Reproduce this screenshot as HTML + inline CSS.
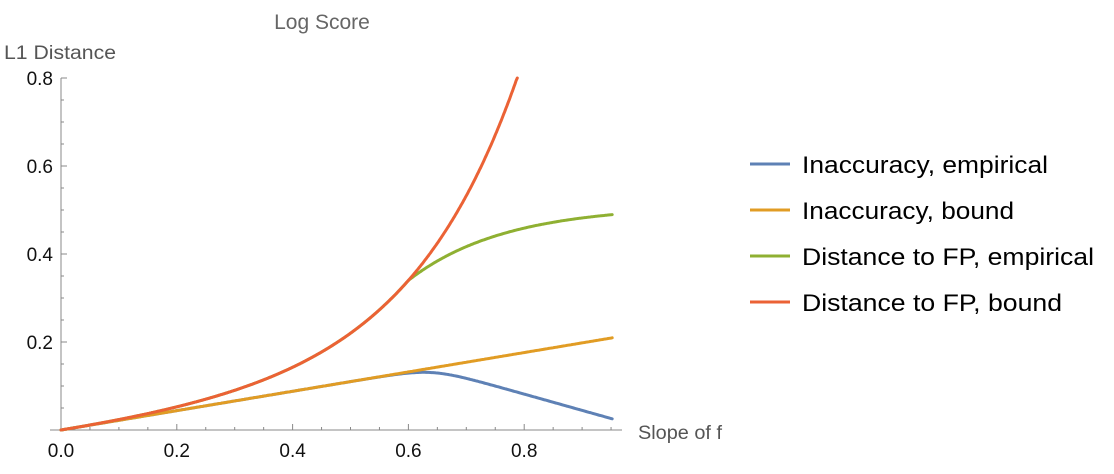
<!DOCTYPE html>
<html><head><style>
body{margin:0;background:#fff;}
svg{display:block;font-family:"Liberation Sans",Arial,sans-serif;}
</style></head><body>
<svg id="s" width="1114" height="474" xmlns="http://www.w3.org/2000/svg">
<text x="322" y="29" font-size="21" fill="#666" text-anchor="middle">Log Score</text>
<text x="4" y="59" font-size="19" fill="#555" textLength="112" lengthAdjust="spacingAndGlyphs">L1 Distance</text>
<text x="638" y="439" font-size="19" fill="#555" textLength="84" lengthAdjust="spacingAndGlyphs">Slope of f</text>
<g id="ax" stroke="#888" stroke-width="1"></g>
<g id="lbl" font-size="19" fill="#111"></g>
<g id="curves" fill="none" stroke-width="3" stroke-linejoin="round" stroke-linecap="round"></g>
<g stroke-width="3">
<line x1="750" y1="164" x2="790" y2="164" stroke="#5e81b5"/>
<line x1="750" y1="210" x2="790" y2="210" stroke="#e19c24"/>
<line x1="750" y1="256" x2="790" y2="256" stroke="#8fb032"/>
<line x1="750" y1="302" x2="790" y2="302" stroke="#eb6235"/>
</g>
<g font-size="24" fill="#000">
<text x="802" y="173" textLength="246" lengthAdjust="spacingAndGlyphs">Inaccuracy, empirical</text>
<text x="802" y="219" textLength="212" lengthAdjust="spacingAndGlyphs">Inaccuracy, bound</text>
<text x="802" y="265" textLength="292" lengthAdjust="spacingAndGlyphs">Distance to FP, empirical</text>
<text x="802" y="311" textLength="260" lengthAdjust="spacingAndGlyphs">Distance to FP, bound</text>
</g>
</svg>
<script>
const X=x=>61+x*579, Y=y=>430-y*440;
const ax=document.getElementById('ax'), lbl=document.getElementById('lbl'), cv=document.getElementById('curves');
let h='';
h+=`<line x1="50" y1="430" x2="622" y2="430"/><line x1="61" y1="78" x2="61" y2="430"/>`;
for(let i=1;i<=19;i++){let x=X(i*0.05);if(x>622)break;h+=`<line x1="${x}" y1="430" x2="${x}" y2="${i%4==0?424:427}"/>`;}
for(let i=1;i<=16;i++){let y=Y(i*0.05);h+=`<line x1="61" y1="${y}" x2="${i%4==0?67:64}" y2="${y}"/>`;}
ax.innerHTML=h;
let l='';
['0.0','0.2','0.4','0.6','0.8'].forEach((t,i)=>{l+=`<text x="${X(i*0.2)}" y="457" text-anchor="middle">${t}</text>`;});
['0.2','0.4','0.6','0.8'].forEach((t,i)=>{l+=`<text x="53" y="${Y((i+1)*0.2)+7}" text-anchor="end">${t}</text>`;});
lbl.innerHTML=l;
const red=x=>0.22*x+0.01047*(Math.exp(5.3*x)-1-5.3*x);
const yel=x=>0.22*x;
const grn=x=>x<=0.6?red(x):red(0.6)+0.17*(1-Math.exp(-6*(x-0.6)));
const w=0.025;
const blu=x=>yel(x)-0.59*w*Math.log(1+Math.exp((x-0.64)/w));
function path(f,xmax,col){let d='';for(let i=0;i<=400;i++){let x=xmax*i/400;let y=f(x);d+=(i?'L':'M')+X(x).toFixed(1)+','+Math.max(Y(y),78).toFixed(1);if(y>0.8)break;}return `<path d="${d}" stroke="${col}"/>`;}
cv.innerHTML=path(blu,0.952,'#5e81b5')+path(yel,0.952,'#e19c24')+path(grn,0.952,'#8fb032')+path(red,0.79,'#eb6235');
</script>
</body></html>
